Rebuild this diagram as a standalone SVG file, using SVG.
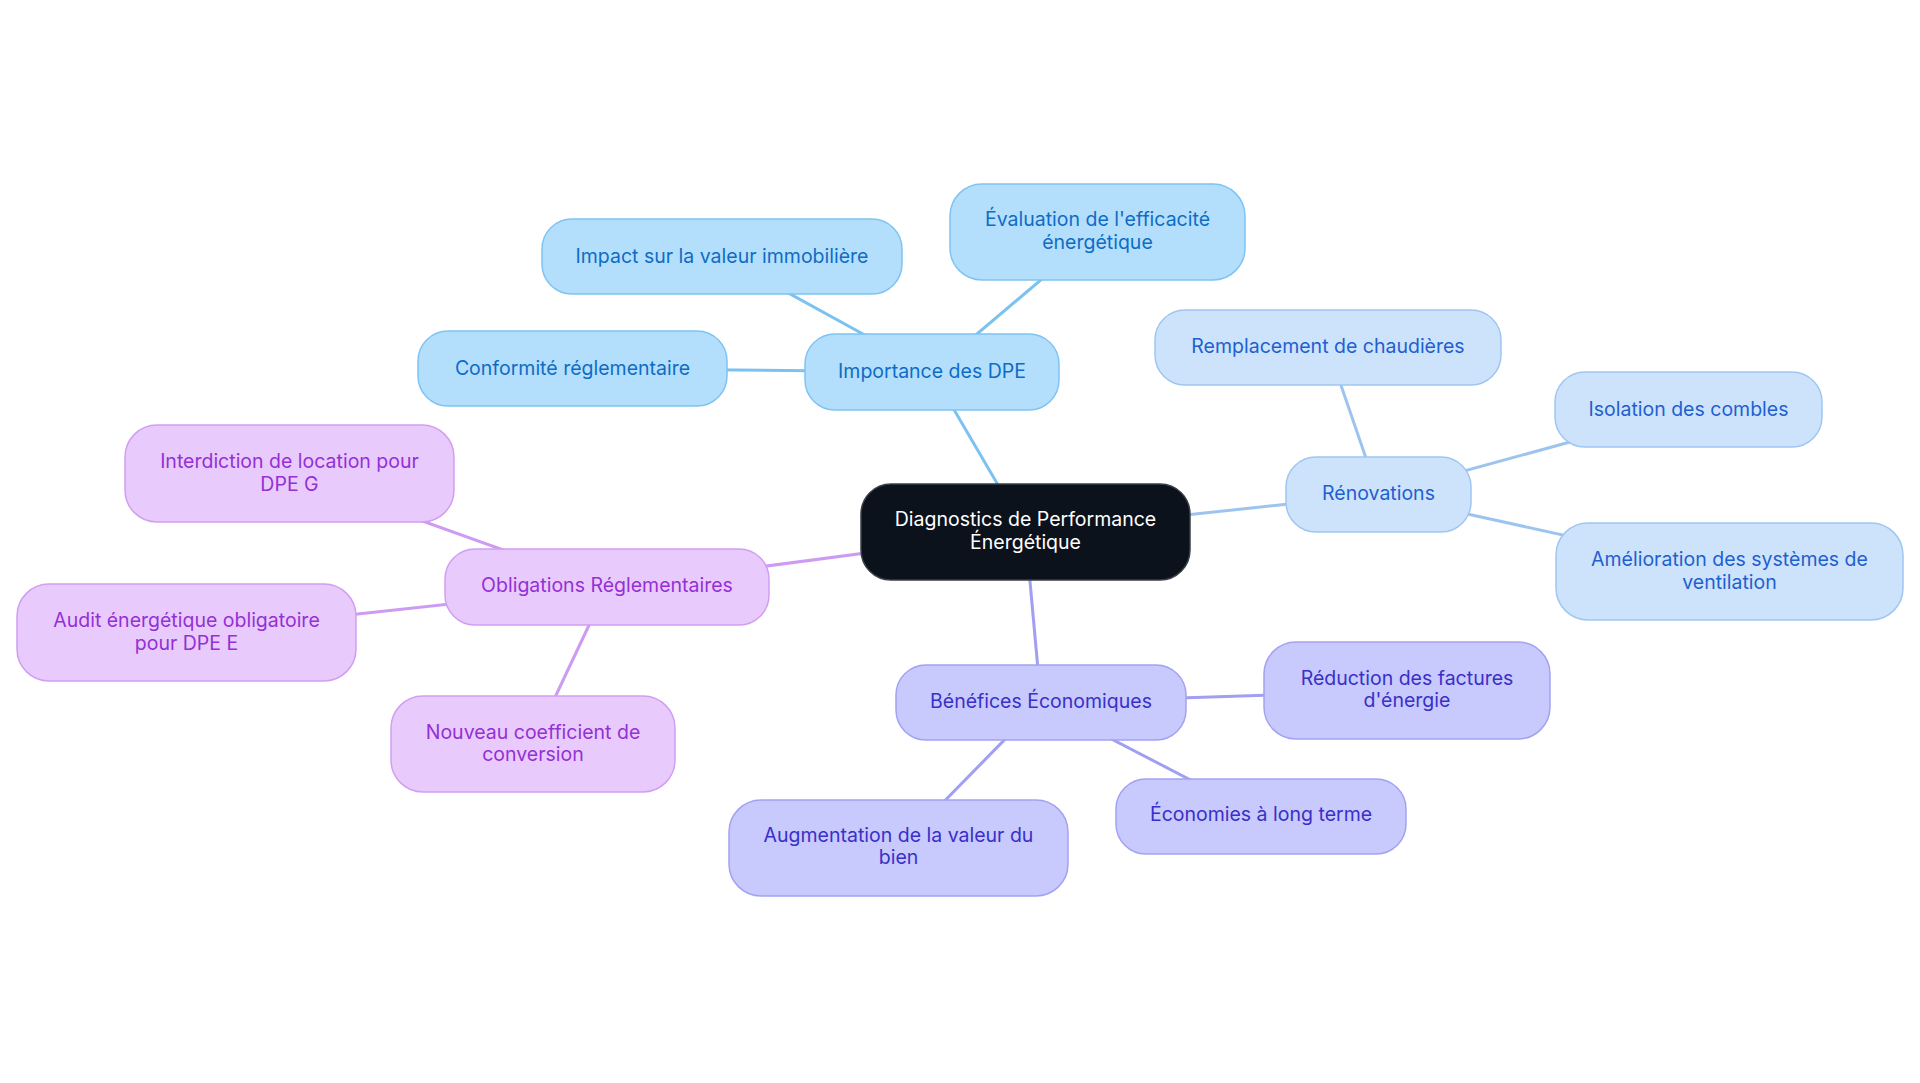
<svg xmlns="http://www.w3.org/2000/svg" width="1920" height="1083" viewBox="0 0 1920 1083">
<style>
text{font-family:Inter,"Noto Sans","Liberation Sans",sans-serif;font-size:19.5px;text-anchor:middle}
.c1 rect{fill:#b3dffc;stroke:#7fc3f2;stroke-width:1.5}
.c1 text{fill:#0f6cc4}
.c2 rect{fill:#cde3fb;stroke:#9fc6f1;stroke-width:1.5}
.c2 text{fill:#1f5fcf}
.c3 rect{fill:#c8c9fc;stroke:#a2a2f2;stroke-width:1.5}
.c3 text{fill:#3830c9}
.c4 rect{fill:#e8cbfc;stroke:#d19ef2;stroke-width:1.5}
.c4 text{fill:#9430d6}
.root rect{fill:#0c121b;stroke:#3a3f47;stroke-width:1.5}
.root text{fill:#ffffff}
#edges line{stroke-width:3;fill:none}
.e1{stroke:#7cc2f0}.e2{stroke:#9dc4ef}.e3{stroke:#a19ff2}.e4{stroke:#cd9bf2}
</style>
<rect width="1920" height="1083" fill="#ffffff"/>
<g id="edges">
<line class="e1" x1="1025.5" y1="532" x2="932" y2="372"/>
<line class="e1" x1="932" y1="372" x2="1097.5" y2="232"/>
<line class="e1" x1="932" y1="372" x2="722" y2="256.5"/>
<line class="e1" x1="932" y1="372" x2="572.5" y2="368.5"/>
<line class="e2" x1="1025.5" y1="532" x2="1378.5" y2="494.5"/>
<line class="e2" x1="1378.5" y1="494.5" x2="1328" y2="347.5"/>
<line class="e2" x1="1378.5" y1="494.5" x2="1688.5" y2="409.5"/>
<line class="e2" x1="1378.5" y1="494.5" x2="1729.5" y2="571.5"/>
<line class="e3" x1="1025.5" y1="532" x2="1041" y2="702.5"/>
<line class="e3" x1="1041" y1="702.5" x2="1407" y2="690.5"/>
<line class="e3" x1="1041" y1="702.5" x2="1261" y2="816.5"/>
<line class="e3" x1="1041" y1="702.5" x2="898.5" y2="848"/>
<line class="e4" x1="1025.5" y1="532" x2="607" y2="587"/>
<line class="e4" x1="607" y1="587" x2="289.5" y2="473.5"/>
<line class="e4" x1="607" y1="587" x2="186.5" y2="632.5"/>
<line class="e4" x1="607" y1="587" x2="533" y2="744"/>
</g>
<g id="root" class="root"><rect x="861" y="484" width="329" height="96" rx="30"/><text x="1025.5" y="526">Diagnostics de Performance</text><text x="1025.5" y="549">Énergétique</text></g>
<g id="importance" class="c1"><rect x="805" y="334" width="254" height="76" rx="30"/><text x="932" y="378">Importance des DPE</text></g>
<g id="evaluation" class="c1"><rect x="950" y="184" width="295" height="96" rx="32"/><text x="1097.5" y="226">Évaluation de l'efficacité</text><text x="1097.5" y="249">énergétique</text></g>
<g id="impact" class="c1"><rect x="542" y="219" width="360" height="75" rx="30"/><text x="722" y="263">Impact sur la valeur immobilière</text></g>
<g id="conformite" class="c1"><rect x="418" y="331" width="309" height="75" rx="30"/><text x="572.5" y="375">Conformité réglementaire</text></g>
<g id="renovations" class="c2"><rect x="1286" y="457" width="185" height="75" rx="30"/><text x="1378.5" y="500">Rénovations</text></g>
<g id="remplacement" class="c2"><rect x="1155" y="310" width="346" height="75" rx="30"/><text x="1328" y="353">Remplacement de chaudières</text></g>
<g id="isolation" class="c2"><rect x="1555" y="372" width="267" height="75" rx="30"/><text x="1688.5" y="416">Isolation des combles</text></g>
<g id="amelioration" class="c2"><rect x="1556" y="523" width="347" height="97" rx="32"/><text x="1729.5" y="566">Amélioration des systèmes de</text><text x="1729.5" y="589">ventilation</text></g>
<g id="benefices" class="c3"><rect x="896" y="665" width="290" height="75" rx="30"/><text x="1041" y="708">Bénéfices Économiques</text></g>
<g id="reduction" class="c3"><rect x="1264" y="642" width="286" height="97" rx="32"/><text x="1407" y="685">Réduction des factures</text><text x="1407" y="707">d'énergie</text></g>
<g id="economies" class="c3"><rect x="1116" y="779" width="290" height="75" rx="30"/><text x="1261" y="821">Économies à long terme</text></g>
<g id="augmentation" class="c3"><rect x="729" y="800" width="339" height="96" rx="32"/><text x="898.5" y="842">Augmentation de la valeur du</text><text x="898.5" y="864">bien</text></g>
<g id="obligations" class="c4"><rect x="445" y="549" width="324" height="76" rx="30"/><text x="607" y="592">Obligations Réglementaires</text></g>
<g id="interdiction" class="c4"><rect x="125" y="425" width="329" height="97" rx="32"/><text x="289.5" y="468">Interdiction de location pour</text><text x="289.5" y="491">DPE G</text></g>
<g id="audit" class="c4"><rect x="17" y="584" width="339" height="97" rx="32"/><text x="186.5" y="627">Audit énergétique obligatoire</text><text x="186.5" y="650">pour DPE E</text></g>
<g id="nouveau" class="c4"><rect x="391" y="696" width="284" height="96" rx="32"/><text x="533" y="739">Nouveau coefficient de</text><text x="533" y="761">conversion</text></g>
</svg>
